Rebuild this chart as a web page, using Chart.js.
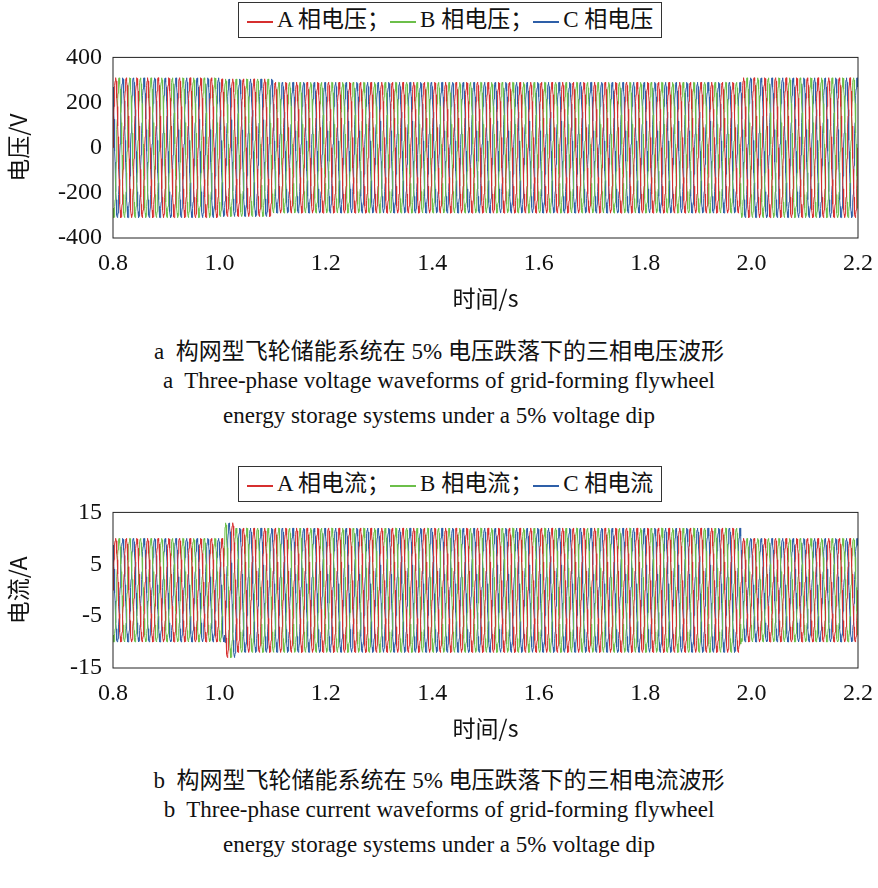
<!DOCTYPE html>
<html><head><meta charset="utf-8">
<script src="https://cdn.jsdelivr.net/npm/chart.js@4/dist/chart.umd.min.js"></script>
<style>
body{margin:0;background:#fff;width:878px;height:888px;position:relative;font-family:"Liberation Serif","Noto Sans CJK SC",serif;color:#111}
.box{position:absolute;left:0;width:878px}
.legend{position:absolute;border:1px solid #333;background:#fff;font-size:23px;padding:0 8px;height:34px;line-height:34px;white-space:nowrap;z-index:2}
.legend i{display:inline-block;width:26px;height:2px;vertical-align:middle;margin-right:4px}
.cap{position:absolute;left:0;width:878px;text-align:center;font-size:23px}
</style></head><body>
<div class="legend" style="left:238px;top:2px"><i style="background:#d62f2f"></i>A 相电压；<i style="background:#6cbf4a"></i>B 相电压；<i style="background:#2e5fa8"></i>C 相电压</div>
<div class="box" style="top:40px;height:290px"><canvas id="c1"></canvas></div>
<div class="cap" style="top:332px">a&nbsp; 构网型飞轮储能系统在 5% 电压跌落下的三相电压波形</div>
<div class="cap" style="top:368px">a&nbsp; Three-phase voltage waveforms of grid-forming flywheel</div>
<div class="cap" style="top:403px">energy storage systems under a 5% voltage dip</div>
<div class="legend" style="left:238px;top:466px"><i style="background:#d62f2f"></i>A 相电流；<i style="background:#6cbf4a"></i>B 相电流；<i style="background:#2e5fa8"></i>C 相电流</div>
<div class="box" style="top:495px;height:265px"><canvas id="c2"></canvas></div>
<div class="cap" style="top:761px">b&nbsp; 构网型飞轮储能系统在 5% 电压跌落下的三相电流波形</div>
<div class="cap" style="top:797px">b&nbsp; Three-phase current waveforms of grid-forming flywheel</div>
<div class="cap" style="top:832px">energy storage systems under a 5% voltage dip</div>
<script>
// Waveform envelope (time breakpoints, s / peak amplitude)
const xTicks = [0.8, 1.0, 1.2, 1.4, 1.6, 1.8, 2.0, 2.2];
const voltTimes = [0.8, 1.0, 1.1, 1.98, 2.2];
const voltAmps = [310, 305, 290, 310, 310];
const currTimes = [0.8, 0.99, 1.01, 1.03, 1.98, 2.2];
const currAmps = [10, 10, 13, 12, 10, 10];
const phaseNames = ['A', 'B', 'C'];
const phaseColors = ['#d62f2f', '#6cbf4a', '#2e5fa8'];
const freq = 50;

function envAt(times, amps, t) {
  for (let i = times.length - 2; i >= 0; i--) if (t >= times[i]) return amps[i];
  return amps[0];
}
function wave(times, amps, k) {
  const pts = [];
  for (let t = 0.8; t <= 2.2 + 1e-9; t += 0.0005) {
    pts.push({x: t, y: envAt(times, amps, t) * Math.sin(2 * Math.PI * freq * t - k * 2 * Math.PI / 3)});
  }
  return pts;
}
const frame = {
  id: 'frame',
  afterDraw(c) {
    const a = c.chartArea, g = c.ctx;
    g.save(); g.strokeStyle = '#222'; g.lineWidth = 1;
    g.strokeRect(a.left, a.top, a.right - a.left, a.bottom - a.top); g.restore();
  }
};
function make(id, times, amps, yMin, yMax, yStep, yTitle) {
  new Chart(document.getElementById(id), {
    type: 'line',
    data: { datasets: phaseNames.map((n, k) => ({
      label: n, data: wave(times, amps, k), borderColor: phaseColors[k],
      borderWidth: 1, pointRadius: 0, fill: false }))},
    options: {
      responsive: true, maintainAspectRatio: false, animation: false,
      layout: { padding: { top: 12, right: 20 } },
      plugins: { legend: { display: false }, tooltip: { enabled: false } },
      scales: {
        x: { type: 'linear', min: 0.8, max: 2.2, afterBuildTicks: s => { s.ticks = xTicks.map(v => ({value: v})); },
          grid: { display: false }, border: { display: false },
          ticks: { color: '#111', font: { family: 'Liberation Serif', size: 24 }, callback: v => v.toFixed(1), maxRotation: 0 },
          title: { display: true, text: '时间/s', color: '#111', padding: { top: 0, bottom: 18 }, font: { family: 'Noto Sans CJK SC', size: 23 } },
          afterFit: s => { s.height = 92; } },
        y: { min: yMin, max: yMax, ticks: { stepSize: yStep, color: '#111', font: { family: 'Liberation Serif', size: 24 } },
          grid: { display: false }, border: { display: false },
          title: { display: true, text: yTitle, color: '#111', font: { family: 'Noto Sans CJK SC', size: 23 } },
          afterFit: s => { s.width = 113; } }
      }
    },
    plugins: [frame]
  });
}
make('c1', voltTimes, voltAmps, -400, 400, 200, '电压/V');
make('c2', currTimes, currAmps, -15, 15, 10, '电流/A');
</script>
</body></html>
